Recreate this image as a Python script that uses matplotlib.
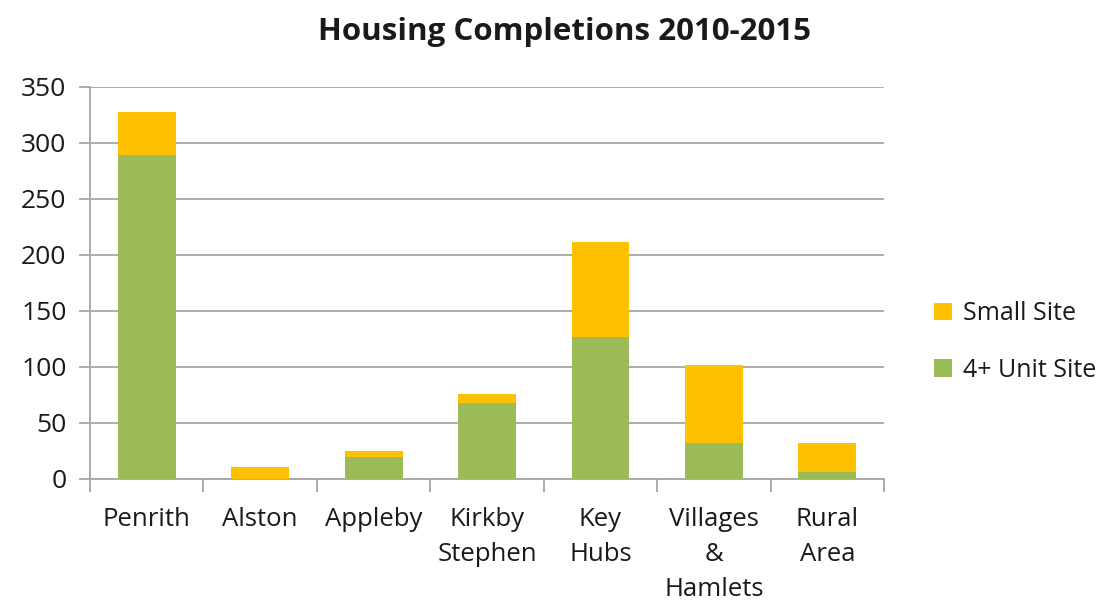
import matplotlib.pyplot as plt
import numpy as np

plt.rcParams['font.family'] = ['Open Sans', 'DejaVu Sans']

categories = ['Penrith', 'Alston', 'Appleby', 'Kirkby\nStephen', 'Key\nHubs',
              'Villages\n&\nHamlets', 'Rural\nArea']
unit_site = [289, 0, 20, 68, 127, 32, 6]
small_site = [39, 11, 5, 8, 85, 70, 26]

green = '#9BBB59'
orange = '#FFC000'
grid_grey = '#A6A6A6'
text_col = '#1a1a1a'

fig = plt.figure(figsize=(11.12, 6), dpi=100)
ax = fig.add_axes([0.081, 0.2017, 0.714, 0.6533])

x = np.arange(len(categories))
ax.bar(x, unit_site, width=0.51, color=green, label='4+ Unit Site', zorder=3)
ax.bar(x, small_site, width=0.51, bottom=unit_site, color=orange,
       label='Small Site', zorder=3)

ax.set_ylim(0, 350)
ax.set_xlim(-0.5, len(categories) - 0.5)
ax.set_yticks(range(0, 351, 50))
ax.yaxis.grid(True, color=grid_grey, linewidth=1.3, zorder=0)

ax.set_xticks(x)
ax.set_xticklabels(categories, fontsize=18.5, linespacing=1.52, va='top',
                   color=text_col)
ax.tick_params(axis='x', length=0, pad=20)
ax.set_xticks(np.arange(-0.5, len(categories)), minor=True)
ax.tick_params(axis='x', which='minor', length=9, color=grid_grey, width=1.3)
ax.tick_params(axis='y', labelsize=19, length=8, color=grid_grey, width=1.3,
               pad=9, labelcolor=text_col)

for side in ['top', 'right']:
    ax.spines[side].set_visible(False)
for side in ['left', 'bottom']:
    ax.spines[side].set_color(grid_grey)
    ax.spines[side].set_linewidth(1.3)

fig.suptitle('Housing Completions 2010-2015', fontsize=22.5, fontweight='bold',
             x=0.508, y=0.972, color=text_col)

handles, labels = ax.get_legend_handles_labels()
fig.legend(handles[::-1], labels[::-1], loc='center left',
           bbox_to_anchor=(0.82, 0.43), frameon=False, fontsize=18,
           handlelength=0.7, handleheight=0.7, handletextpad=0.45,
           labelspacing=1.25, labelcolor=text_col)

fig.savefig('out.png', dpi=100)
